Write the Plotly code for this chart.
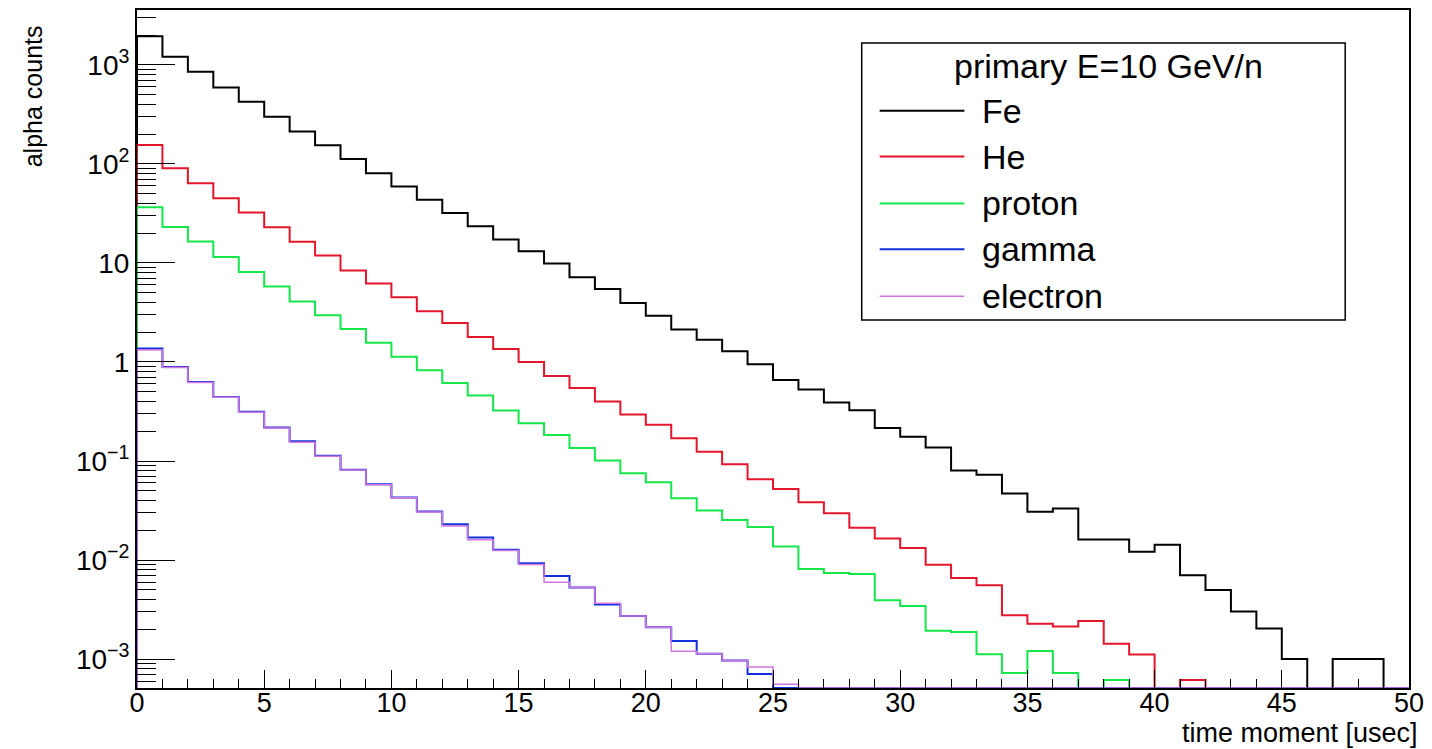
import plotly.graph_objects as go
import numpy as np

# ---------------- data (per-bin values, bin width 1 usec, 0..50) ----------------
bin_edges = list(range(0, 51))

fe = [1950, 1205, 851, 591, 424, 300, 213, 154, 112, 80.5,
      59.1, 43.4, 31.9, 23.4, 17.2, 13.1, 9.85, 7.17, 5.47, 3.93,
      2.93, 2.13, 1.68, 1.28, 0.948, 0.659, 0.526, 0.390, 0.326, 0.215,
      0.176, 0.137, 0.080, 0.0728, 0.0469, 0.0307, 0.0331, 0.0161, 0.0161, 0.0121,
      0.0143, 0.00701, 0.00499, 0.00302, 0.00204, 0.001, 0, 0.001, 0.001, 0]

he = [155, 90.4, 63.9, 45.1, 32.4, 22.9, 16.4, 11.9, 8.38, 6.2,
      4.51, 3.26, 2.47, 1.79, 1.35, 1.0, 0.723, 0.547, 0.399, 0.295,
      0.232, 0.170, 0.124, 0.0925, 0.0653, 0.0523, 0.0383, 0.0297, 0.0212, 0.0165,
      0.0132, 0.00898, 0.00659, 0.00556, 0.00277, 0.00227, 0.00213, 0.00243, 0.00143, 0.00111,
      0, 0.000614, 0, 0, 0, 0, 0, 0, 0, 0]

proton = [36.6, 23.0, 16.5, 11.5, 8.11, 5.78, 4.08, 2.97, 2.15, 1.56,
          1.13, 0.824, 0.615, 0.458, 0.323, 0.241, 0.183, 0.135, 0.101, 0.0751,
          0.061, 0.042, 0.0316, 0.0253, 0.0215, 0.0137, 0.0081, 0.0074, 0.00722, 0.00393,
          0.00344, 0.00193, 0.00188, 0.00112, 0.000723, 0.00121, 0.000723, 0, 0.000614, 0,
          0, 0, 0, 0, 0, 0, 0, 0, 0, 0]

gamma = [1.37, 0.891, 0.629, 0.444, 0.314, 0.218, 0.158, 0.113, 0.0818, 0.0582,
         0.0428, 0.0309, 0.0230, 0.0169, 0.0127, 0.0093, 0.0069, 0.00527, 0.00355, 0.00273,
         0.0021, 0.00152, 0.00113, 0.00097, 0.000706, 0, 0, 0, 0, 0,
         0, 0, 0, 0, 0, 0, 0, 0, 0, 0,
         0, 0, 0, 0, 0, 0, 0, 0, 0, 0]

electron = [1.32, 0.88, 0.62, 0.44, 0.31, 0.215, 0.155, 0.112, 0.081, 0.0575,
            0.0425, 0.0305, 0.0221, 0.0160, 0.0125, 0.0090, 0.00596, 0.00527, 0.00367, 0.00273,
            0.0021, 0.00120, 0.00113, 0.00097, 0.00083, 0.000556, 0, 0, 0, 0,
            0, 0, 0, 0, 0, 0, 0, 0, 0, 0,
            0, 0, 0, 0, 0, 0, 0, 0, 0, 0]

series_names = ["Fe", "He", "proton", "gamma", "electron"]
series_values = [fe, he, proton, gamma, electron]
series_colors = ["#000000", "#e3162b", "#14e64b", "#1230dc", "#d277e0"]
series_widths = [2, 2, 2, 2, 1.5]

legend_header = "primary E=10 GeV/n"
x_title = "time moment [usec]"
y_title = "alpha counts"

x_tick_vals = [0, 5, 10, 15, 20, 25, 30, 35, 40, 45, 50]
y_tick_vals = [1e-3, 1e-2, 1e-1, 1, 10, 100, 1000]
y_tick_text = ["10<sup>\u22123</sup>", "10<sup>\u22122</sup>", "10<sup>\u22121</sup>", "1", "10",
               "10<sup>2</sup>", "10<sup>3</sup>"]

# ---------------- layout geometry ----------------
W, H = 1432, 749
ML, MR, MT, MB = 137, 19, 8, 61
PW, PH = W - ML - MR, H - MT - MB
y_log_range = [-3.292, 3.554]
floor = 10 ** y_log_range[0]
FONT = "Liberation Sans, Arial, Helvetica, sans-serif"
NARROW = "Liberation Sans Narrow, Liberation Sans, Arial, sans-serif"


def px2paper_x(px):
    return (px - ML) / PW


def px2paper_y(py):
    return (H - MB - py) / PH


fig = go.Figure()

for name, vals, col, lw in zip(series_names, series_values, series_colors, series_widths):
    xs, ys = [bin_edges[0]], [floor]
    for i, v in enumerate(vals):
        vv = v if v > 0 else floor
        xs += [bin_edges[i], bin_edges[i + 1]]
        ys += [vv, vv]
    xs.append(bin_edges[-1])
    ys.append(floor)
    fig.add_trace(go.Scatter(x=xs, y=ys, mode="lines", name=name,
                             line=dict(color=col, width=lw), showlegend=False,
                             hoverinfo="skip"))

minor_y = [m * 10.0 ** k for k in range(-4, 4) for m in range(2, 10)]

fig.update_xaxes(range=[0, 50], showgrid=False, zeroline=False,
                 showline=True, linecolor="black", linewidth=2, mirror=True,
                 ticks="inside", ticklen=18, tickwidth=1, tickcolor="black",
                 tickvals=x_tick_vals, ticklabelstandoff=-10,
                 minor=dict(ticks="inside", ticklen=9, tickwidth=1, tickcolor="black", dtick=1,
                            showgrid=False),
                 tickfont=dict(family=FONT, size=27, color="black"))

fig.update_yaxes(type="log", range=y_log_range, showgrid=False, zeroline=False,
                 showline=True, linecolor="black", linewidth=2, mirror=True,
                 ticks="inside", ticklen=38, tickwidth=1, tickcolor="black",
                 tickvals=y_tick_vals, ticktext=y_tick_text, ticklabelstandoff=0,
                 minor=dict(ticks="inside", ticklen=19, tickwidth=1, tickcolor="black",
                            tickvals=minor_y, showgrid=False),
                 tickfont=dict(family=FONT, size=28, color="black"))

shapes = []
annotations = []

# axis titles
annotations.append(dict(text=x_title, xref="paper", yref="paper",
                        x=px2paper_x(1424), y=px2paper_y(733), xanchor="right", yanchor="middle",
                        showarrow=False, font=dict(family=FONT, size=27, color="black")))
annotations.append(dict(text=y_title, xref="paper", yref="paper", textangle=-90,
                        x=px2paper_x(33), y=px2paper_y(21), xanchor="center", yanchor="top",
                        showarrow=False, font=dict(family=NARROW, size=25, color="black")))

# legend box
shapes.append(dict(type="rect", xref="paper", yref="paper",
                   x0=px2paper_x(864), x1=px2paper_x(1349), y0=px2paper_y(319), y1=px2paper_y(41),
                   line=dict(color="black", width=1.5), fillcolor="white", layer="above"))
annotations.append(dict(text=legend_header, xref="paper", yref="paper",
                        x=px2paper_x(1112), y=px2paper_y(64), xanchor="center", yanchor="middle",
                        showarrow=False, font=dict(family=FONT, size=34, color="black")))
entry_y = [109, 155, 202, 248, 295]
for name, col, lw, ey in zip(series_names, series_colors, series_widths, entry_y):
    shapes.append(dict(type="line", xref="paper", yref="paper",
                       x0=px2paper_x(882), x1=px2paper_x(967), y0=px2paper_y(ey), y1=px2paper_y(ey),
                       line=dict(color=col, width=lw), layer="above"))
    annotations.append(dict(text=name, xref="paper", yref="paper",
                            x=px2paper_x(983), y=px2paper_y(ey), xanchor="left", yanchor="middle",
                            showarrow=False, font=dict(family=FONT, size=34, color="black")))

fig.update_layout(width=W, height=H, margin=dict(l=ML, r=MR, t=MT, b=MB),
                  paper_bgcolor="white", plot_bgcolor="white",
                  shapes=shapes, annotations=annotations, showlegend=False)

fig.write_html("out.html")
